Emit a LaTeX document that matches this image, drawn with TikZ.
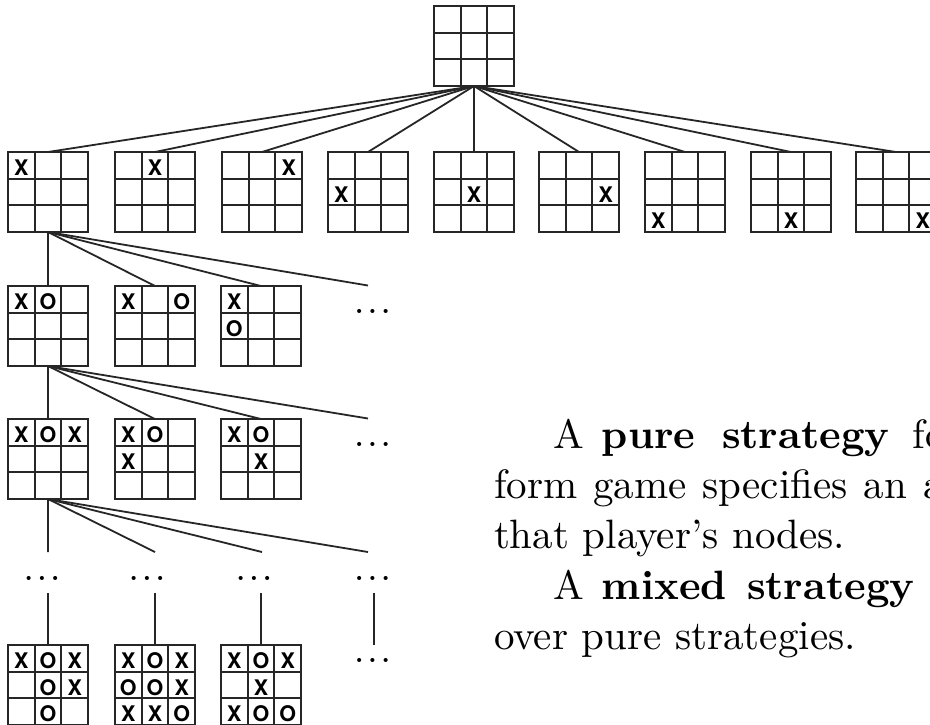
\documentclass[tikz,border=0pt]{standalone}
\usepackage{fontspec}
\usepackage{graphicx}
\usetikzlibrary{matrix}
\newfontfamily\boardfont{TeX Gyre Heros}
\colorlet{ink}{black!85}
% body text is set at 10pt and enlarged as a whole
\newcommand\prose[1]{\scalebox{4.1}{\fontsize{10}{12}\selectfont #1}}
\newcommand\moredots{\scalebox{2.6}{\fontsize{10}{12}\selectfont\boldmath$\ldots$}}
\begin{document}
\begin{tikzpicture}[x=1pt,y=-1pt,
  board/.style={matrix of nodes, nodes in empty cells, anchor=north west,
    inner sep=0pt, outer sep=0pt, column sep=0pt, row sep=0pt,
    nodes={minimum size=26.67pt, inner sep=0pt, outer sep=0pt,
      text height=20pt, text depth=0pt,
      font=\boardfont\bfseries\fontsize{21.5}{21.5}\selectfont}},
  gridline/.style={draw=ink, line width=1.8pt},
  edge/.style={draw=ink, line width=1.8pt},
  dotsnode/.style={anchor=base, inner sep=0pt, outer sep=0pt},
  textline/.style={anchor=base west, inner sep=0pt, outer sep=0pt}]
\path[use as bounding box] (0,0) rectangle (930,724);

% root: empty board
\matrix[board] (t) at (434,6) { & & \\ & & \\ & & \\};

% first moves
\matrix[board] (a1) at (8,152)   {X & & \\ & & \\ & & \\};
\matrix[board] (a2) at (115,152) { & X & \\ & & \\ & & \\};
\matrix[board] (a3) at (222,152) { & & X \\ & & \\ & & \\};
\matrix[board] (a4) at (328,152) { & & \\ X & & \\ & & \\};
\matrix[board] (a5) at (434,152) { & & \\ & X & \\ & & \\};
\matrix[board] (a6) at (539,152) { & & \\ & & X \\ & & \\};
\matrix[board] (a7) at (645,152) { & & \\ & & \\ X & & \\};
\matrix[board] (a8) at (751,152) { & & \\ & & \\ & X & \\};
\matrix[board] (a9) at (856,152) { & & \\ & & \\ & & X \\};
\foreach \k in {1,...,9} \draw[edge] (t.south) -- (a\k.north);

% replies of O
\matrix[board] (b1) at (8,286)   {X & O & \\ & & \\ & & \\};
\matrix[board] (b2) at (115,286) {X & & O \\ & & \\ & & \\};
\matrix[board] (b3) at (221,286) {X & & \\ O & & \\ & & \\};
\node[dotsnode] (b4dots) at (372.5,313.5) {\moredots};
\coordinate (b4) at (368,285.5);
\foreach \k in {1,2,3} \draw[edge] (a1.south) -- (b\k.north);
\draw[edge] (a1.south) -- (b4);

% second move of X
\matrix[board] (c1) at (8,419)   {X & O & X \\ & & \\ & & \\};
\matrix[board] (c2) at (115,419) {X & O & \\ X & & \\ & & \\};
\matrix[board] (c3) at (221,419) {X & O & \\ & X & \\ & & \\};
\node[dotsnode] (c4dots) at (372.5,446.5) {\moredots};
\coordinate (c4) at (368,418.5);
\foreach \k in {1,2,3} \draw[edge] (b1.south) -- (c\k.north);
\draw[edge] (b1.south) -- (c4);

% elided middle of the game
\coordinate (d1) at (48,552);
\coordinate (d2) at (155,552);
\coordinate (d3) at (262,552);
\coordinate (d4) at (368,552);
\foreach \k in {1,...,4} \draw[edge] (c1.south) -- (d\k);
\node[dotsnode] (d1dots) at (42,580.5)    {\moredots};
\node[dotsnode] (d2dots) at (147,580.5)   {\moredots};
\node[dotsnode] (d3dots) at (254,580.5)   {\moredots};
\node[dotsnode] (d4dots) at (372.5,580.5) {\moredots};

% terminal positions
\coordinate (u1) at (48,593);
\coordinate (u2) at (155,593);
\coordinate (u3) at (261,593);
\coordinate (u4) at (374,593);
\matrix[board] (e1) at (8,645)   {X & O & X \\ & O & X \\ & O & \\};
\matrix[board] (e2) at (115,645) {X & O & X \\ O & O & X \\ X & X & O \\};
\matrix[board] (e3) at (221,645) {X & O & X \\ & X & \\ X & O & O \\};
\coordinate (e4) at (374,645);
\foreach \k in {1,2,3} \draw[edge] (u\k) -- (e\k.north);
\draw[edge] (u4) -- (e4);
\node[dotsnode] (e4dots) at (372.5,662.5) {\moredots};

% frame and grid lines of every board
\foreach \m in {t,a1,a2,a3,a4,a5,a6,a7,a8,a9,b1,b2,b3,c1,c2,c3,e1,e2,e3} {
  \draw[gridline] (\m.north west) rectangle (\m.south east);
  \draw[gridline] (\m-1-2.north west) -- (\m-3-2.south west);
  \draw[gridline] (\m-1-3.north west) -- (\m-3-3.south west);
  \draw[gridline] (\m-2-1.north west) -- (\m-2-3.north east);
  \draw[gridline] (\m-3-1.north west) -- (\m-3-3.north east);
}

% definitions beside the tree
\node[textline] (l1) at (553,448) {\prose{\makebox[11.95pt][l]{A}\makebox[29.27pt][l]{\textbf{pure}}\makebox[46.58pt][l]{\textbf{strategy}}fo}};
\node[textline] (l2) at (494,498.5) {\prose{form\hspace{3.91pt}game\hspace{3.91pt}specifies\hspace{3.91pt}an\hspace{3.91pt}a}};
\node[textline] (l3) at (494,548.5) {\prose{that player's nodes.}};
\node[textline] (l4) at (553,599) {\prose{\makebox[11.95pt][l]{A}\makebox[35.37pt][l]{\textbf{mixed}}\textbf{strategy}}};
\node[textline] (l5) at (494,649) {\prose{over pure strategies.}};
\end{tikzpicture}
\end{document}
